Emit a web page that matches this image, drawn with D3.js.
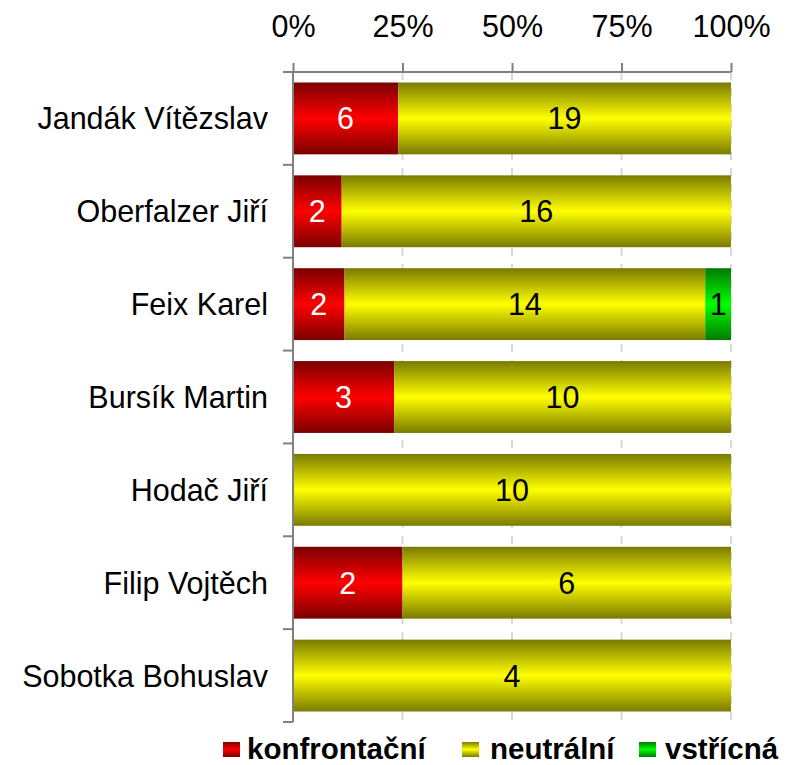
<!DOCTYPE html>
<html>
<head>
<meta charset="UTF-8">
<script src="https://d3js.org/d3.v7.min.js"></script>
<style>
    body { margin: 0; background: #fff; }
    text { font-family: "Liberation Sans", Arial, sans-serif; }
    .grid line { stroke: #d8d8d8; stroke-width: 2px; stroke-dasharray: 8,8; }
</style>
</head>
<body>
<svg id="chart" width="792" height="765"></svg>
<script>
    const names = ["Jandák Vítězslav", "Oberfalzer Jiří", "Feix Karel", "Bursík Martin", "Hodač Jiří", "Filip Vojtěch", "Sobotka Bohuslav"];
    const konfrontacni = [6, 2, 2, 3, 0, 2, 0];
    const neutralni = [19, 16, 14, 10, 10, 6, 4];
    const vstricna = [0, 0, 1, 0, 0, 0, 0];
    const seriesNames = ["konfrontační", "neutrální", "vstřícná"];
    const tickLabels = ["0%", "25%", "50%", "75%", "100%"];

    const svg = d3.select("#chart");
    const margin = {top: 72, right: 61, bottom: 43, left: 293};
    const width = 792 - margin.left - margin.right;
    const height = 765 - margin.top - margin.bottom;
    const fs = 30.5;

    // gradients, dark at the edges, bright in the middle
    const colors = [["#7a0000", "#ff0000"], ["#7a7a00", "#ffff00"], ["#007a00", "#00ff00"]];
    const defs = svg.append("defs");
    colors.forEach((c, i) => {
        const g = defs.append("linearGradient")
            .attr("id", "grad" + i)
            .attr("x1", 0).attr("y1", 0).attr("x2", 0).attr("y2", 1);
        g.append("stop").attr("offset", "0%").attr("stop-color", c[0]);
        g.append("stop").attr("offset", "50%").attr("stop-color", c[1]);
        g.append("stop").attr("offset", "100%").attr("stop-color", c[0]);
    });

    const data = names.map((n, i) => {
        const vals = [konfrontacni[i], neutralni[i], vstricna[i]];
        const total = d3.sum(vals);
        let acc = 0;
        const segs = vals.map((v, k) => {
            const s = {k: k, v: v, x0: acc / total, x1: (acc + v) / total};
            acc += v;
            return s;
        });
        return {name: n, segs: segs};
    });

    const x = d3.scaleLinear().domain([0, 1]).range([0, width]);
    const y = d3.scaleBand().domain(names).range([0, height]).paddingInner(0.226).paddingOuter(0.113);

    const g = svg.append("g").attr("transform", `translate(${margin.left},${margin.top})`);

    // grid
    g.append("g").attr("class", "grid")
        .selectAll("line")
        .data([0.25, 0.5, 0.75, 1])
        .enter().append("line")
        .attr("x1", d => x(d)).attr("x2", d => x(d))
        .attr("y1", 0).attr("y2", height);

    // bars
    const rows = g.selectAll(".row")
        .data(data)
        .enter().append("g")
        .attr("transform", d => `translate(0,${y(d.name)})`);

    rows.selectAll("rect")
        .data(d => d.segs.filter(s => s.v > 0))
        .enter().append("rect")
        .attr("x", s => x(s.x0))
        .attr("width", s => x(s.x1) - x(s.x0))
        .attr("height", y.bandwidth())
        .attr("fill", s => `url(#grad${s.k})`);

    rows.selectAll("text")
        .data(d => d.segs.filter(s => s.v > 0))
        .enter().append("text")
        .attr("x", s => (x(s.x0) + x(s.x1)) / 2)
        .attr("y", y.bandwidth() / 2)
        .attr("dy", "0.36em")
        .attr("text-anchor", "middle")
        .attr("font-size", fs)
        .attr("fill", s => s.k === 0 ? "#fff" : "#000")
        .text(s => s.v);

    // top axis
    const xAxis = d3.axisTop(x).tickValues([0, 0.25, 0.5, 0.75, 1])
        .tickFormat((d, i) => tickLabels[i]).tickSize(9).tickSizeOuter(0).tickPadding(26);
    const ax = g.append("g").call(xAxis);
    ax.select(".domain").attr("stroke", "#808080").attr("stroke-width", 2)
        .attr("d", `M-10,0H${width}`);
    ax.selectAll(".tick line").attr("stroke", "#808080").attr("stroke-width", 2);
    ax.selectAll(".tick text").attr("font-size", fs).attr("fill", "#000")
        .style("font-family", "Liberation Sans, Arial, sans-serif");

    // left axis with band boundary ticks
    const ay = g.append("g");
    ay.append("line").attr("x1", 0).attr("x2", 0).attr("y1", 0).attr("y2", height)
        .attr("stroke", "#808080").attr("stroke-width", 2);
    const step = y.step();
    ay.selectAll(".bt")
        .data(d3.range(names.length + 1))
        .enter().append("line")
        .attr("x1", -10).attr("x2", 0)
        .attr("y1", i => i * step).attr("y2", i => i * step)
        .attr("stroke", "#808080").attr("stroke-width", 2);
    ay.selectAll(".lbl")
        .data(names)
        .enter().append("text")
        .attr("x", -25)
        .attr("y", d => y(d) + y.bandwidth() / 2)
        .attr("dy", "0.36em")
        .attr("text-anchor", "end")
        .attr("font-size", fs)
        .text(d => d);

    // legend
    const squareX = [223, 462, 639];
    const labelX = [247, 490, 665];
    const leg = svg.append("g").attr("transform", "translate(0,748)");
    seriesNames.forEach((s, i) => {
        leg.append("rect")
            .attr("x", squareX[i]).attr("y", -6)
            .attr("width", 17).attr("height", 15)
            .attr("fill", `url(#grad${i})`);
        leg.append("text")
            .attr("x", labelX[i]).attr("y", 0)
            .attr("dy", "0.36em")
            .attr("font-size", 29.5)
            .attr("font-weight", "bold")
            .text(s);
    });
</script>
</body>
</html>
